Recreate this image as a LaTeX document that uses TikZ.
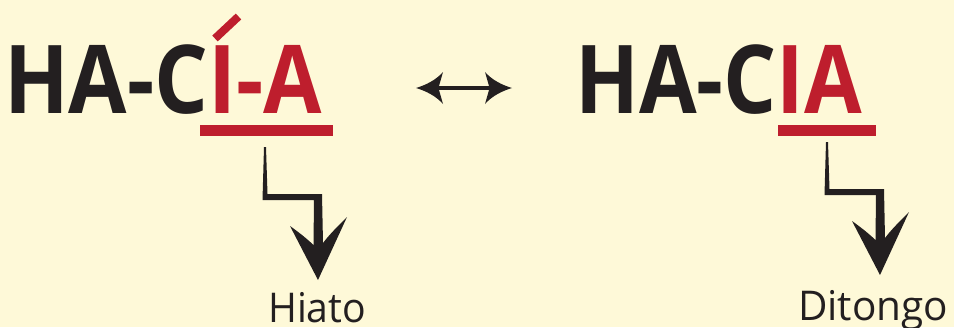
\documentclass[tikz,border=0pt]{standalone}
\usepackage{fontspec}
\setmainfont{Open Sans}
\usepackage{graphicx}
\definecolor{bg}{HTML}{FEF9D8}
\definecolor{rd}{HTML}{BE1E2D}
\definecolor{ink}{HTML}{231F20}
\tikzset{
  word/.style={anchor=base west,inner sep=0pt,text=ink,font=\fontsize{95}{95}\selectfont\bfseries},
  lab/.style={anchor=base west,inner sep=0pt,text=ink,font=\fontsize{41}{41}\selectfont},
  bar/.style={fill=rd,draw=none},
  inkfill/.style={fill=ink,draw=none},
  zig/.pic={
    \fill[ink] (-1,0) -- (-2.5,53) -- (49,53) -- (48.5,98)
      .. controls (40,90) and (32,84) .. (25,79)
      -- (53,133) -- (82,70)
      .. controls (72,80) and (64,88) .. (58,96)
      -- (57,47) -- (2.5,47) -- (1,0) -- cycle;
  }
}
\begin{document}
\begin{tikzpicture}[x=1pt,y=-1pt]
\useasboundingbox (0,0) rectangle (954,327);
\fill[bg] (0,0) rectangle (954,327);
% words
\node[word] (w1) at (4,113.5) {\resizebox{318pt}{\height}{HA-C\textcolor{rd}{I-A}}};
\node[word] (w2) at (575,113.5) {\resizebox{287pt}{\height}{HA-C\textcolor{rd}{IA}}};
% accent
\draw[rd,line width=8pt] (215,38.5) -- (238.5,16.5);
% underlines
\fill[bar] (200,125) rectangle (333,136);
\fill[bar] (778,125) rectangle (876,136);
% double arrow
\fill[inkfill] (439,86) rectangle (489,90);
\fill[inkfill] (416,88) .. controls (426,85) and (436,80) .. (443,72)
  -- (439,86) -- (439,90) -- (443,104) .. controls (436,96) and (426,91) .. cycle;
\fill[inkfill] (512,88) .. controls (502,85) and (492,80) .. (485,72)
  -- (489,86) -- (489,90) -- (485,104) .. controls (492,96) and (502,91) .. cycle;
% zigzag arrows
\pic at (265,147) {zig};
\pic at (827,142) {zig};
% labels
\node[lab] (h) at (268,322) {\resizebox{98pt}{\height}{Hiato}};
\node[lab] (d) at (798,320) {\resizebox{150pt}{\height}{Ditongo}};
\end{tikzpicture}
\end{document}
